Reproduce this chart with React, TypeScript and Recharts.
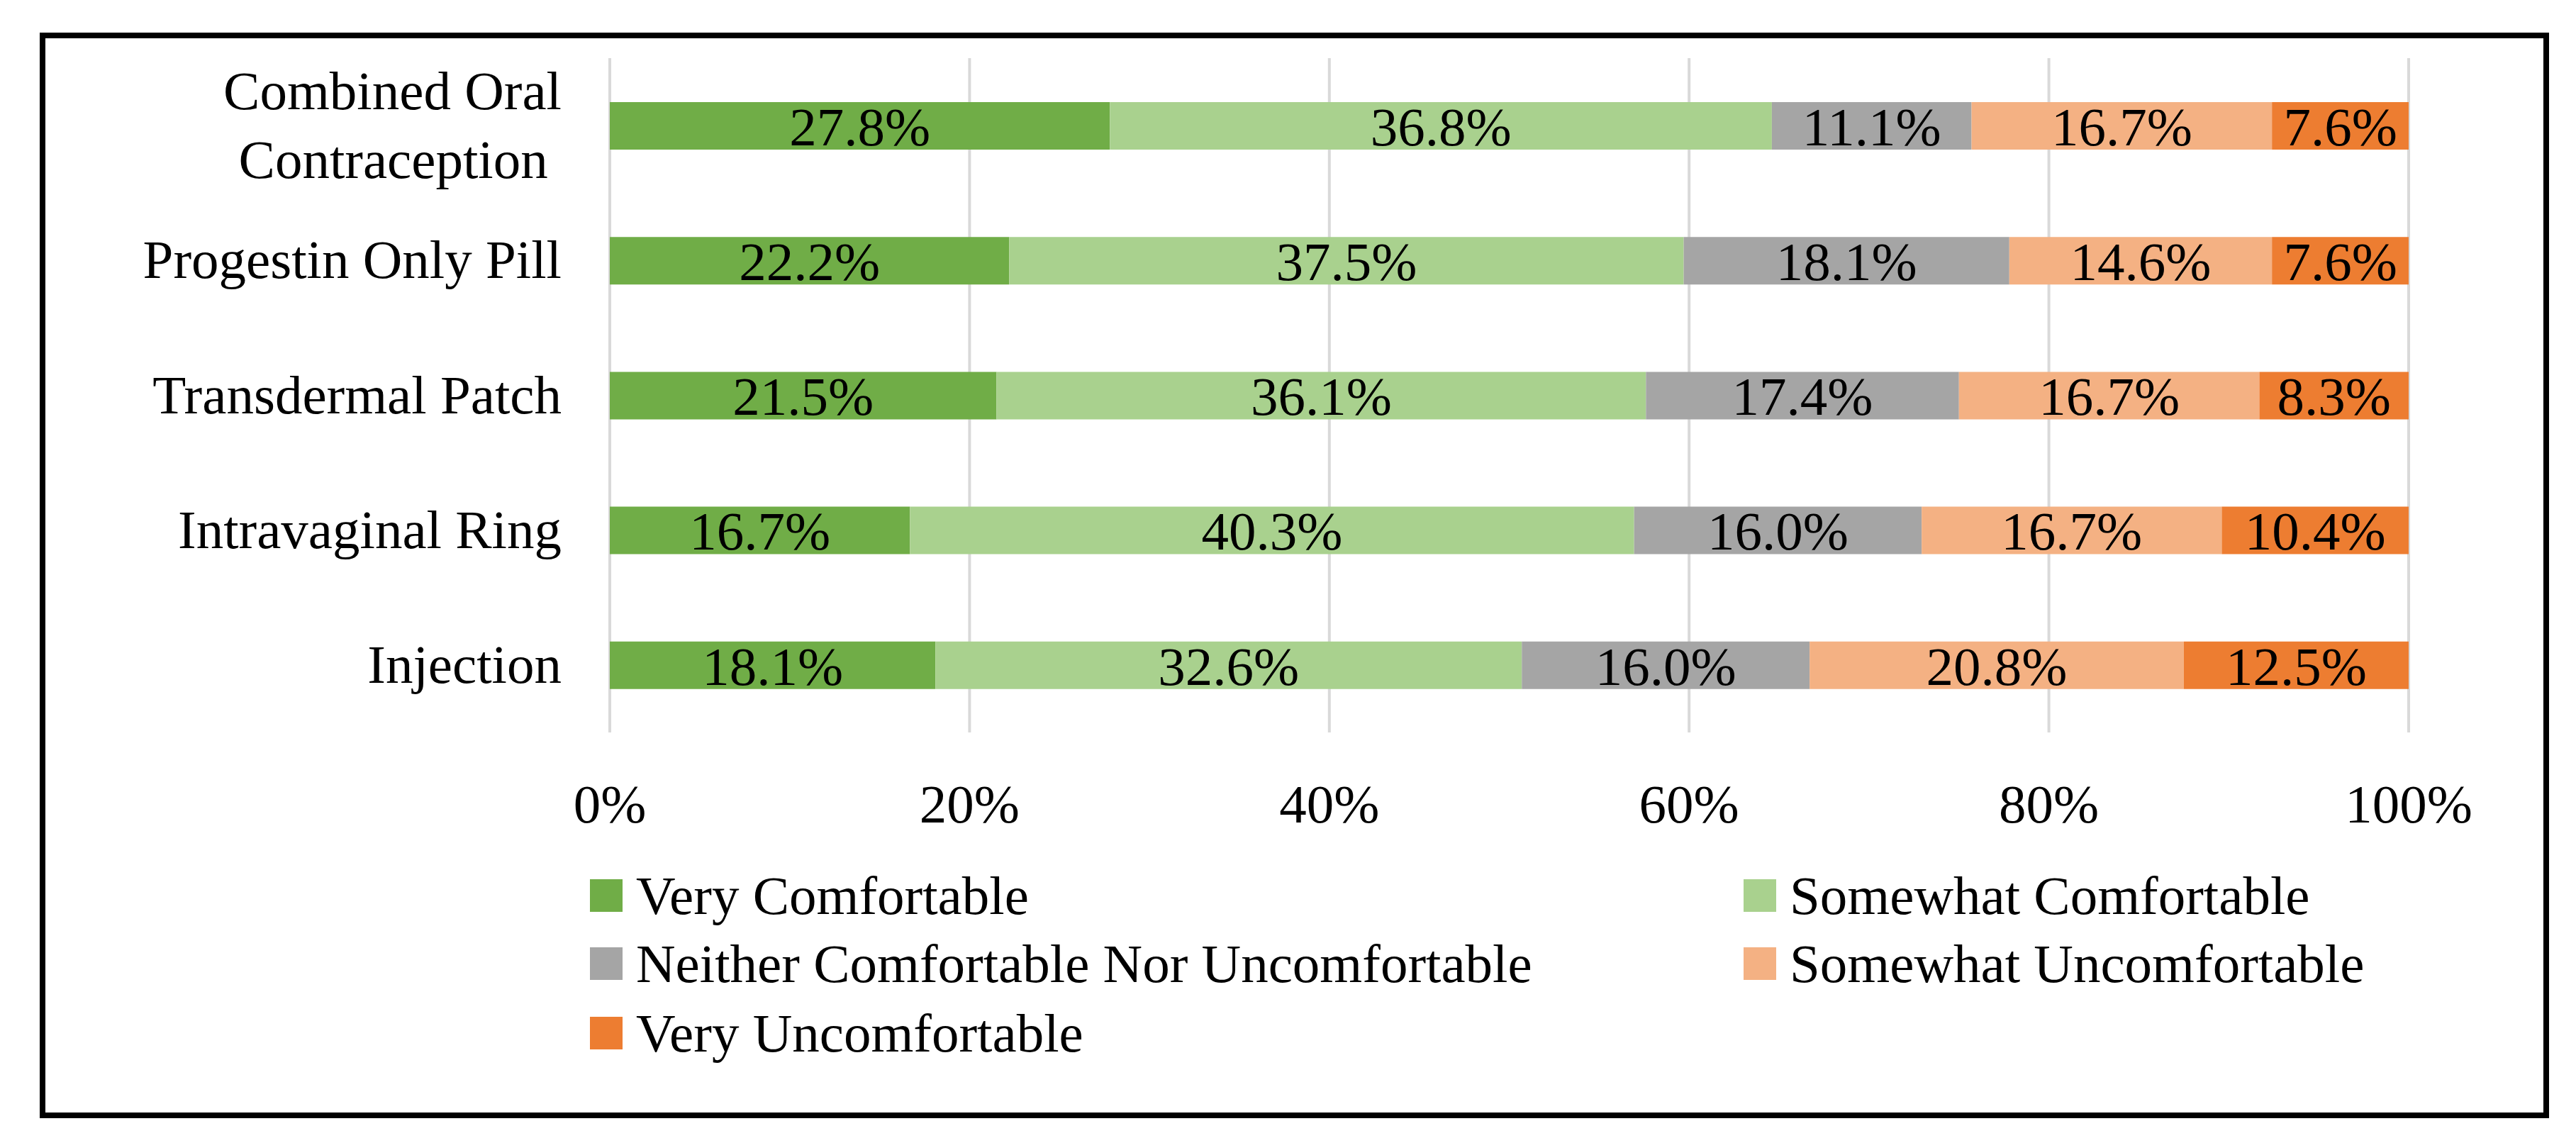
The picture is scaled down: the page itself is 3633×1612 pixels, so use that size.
import { BarChart, Bar, XAxis, YAxis, CartesianGrid, Legend, LabelList } from "recharts";

const CATEGORIES = [
  "Combined Oral Contraception ",
  "Progestin Only Pill",
  "Transdermal Patch",
  "Intravaginal Ring",
  "Injection",
];

const VERY_COMFORTABLE = [27.8, 22.2, 21.5, 16.7, 18.1];
const SOMEWHAT_COMFORTABLE = [36.8, 37.5, 36.1, 40.3, 32.6];
const NEITHER = [11.1, 18.1, 17.4, 16.0, 16.0];
const SOMEWHAT_UNCOMFORTABLE = [16.7, 14.6, 16.7, 16.7, 20.8];
const VERY_UNCOMFORTABLE = [7.6, 7.6, 8.3, 10.4, 12.5];

const X_TICKS = [0, 0.2, 0.4, 0.6, 0.8, 1];

const SERIES = [
  { key: "vc", name: "Very Comfortable", values: VERY_COMFORTABLE, color: "#70AD47" },
  { key: "sc", name: "Somewhat Comfortable", values: SOMEWHAT_COMFORTABLE, color: "#A9D18E" },
  { key: "nc", name: "Neither Comfortable Nor Uncomfortable", values: NEITHER, color: "#A5A5A5" },
  { key: "su", name: "Somewhat Uncomfortable", values: SOMEWHAT_UNCOMFORTABLE, color: "#F4B183" },
  { key: "vu", name: "Very Uncomfortable", values: VERY_UNCOMFORTABLE, color: "#ED7D31" },
];

const data = CATEGORIES.map((name, i) => {
  const row: Record<string, string | number> = { name };
  SERIES.forEach((s) => (row[s.key] = s.values[i]));
  return row;
});

const FONT = '"Liberation Serif", "Times New Roman", serif';
const FS = 77;

// wrap long category names onto two lines at the last space
function splitLabel(label: string): string[] {
  const t = label.trimEnd();
  if (t.length <= 20) return [label];
  const i = t.lastIndexOf(" ");
  return [t.slice(0, i), label.slice(i + 1)];
}

function CategoryTick({ x, y, payload }: any) {
  const lines = splitLabel(String(payload.value));
  const lh = 97;
  const first = y + 25 - ((lines.length - 1) * lh) / 2;
  return (
    <text
      x={x - 68}
      y={first}
      textAnchor="end"
      fontFamily={FONT}
      fontSize={FS}
      fill="#000"
      style={{ whiteSpace: "pre" }}
    >
      {lines.map((l, i) => (
        <tspan key={i} x={x - 68} y={first + i * lh}>
          {l}
        </tspan>
      ))}
    </text>
  );
}

// legend: two columns, filled row by row
const LEGEND_COLS = [832, 2459];
const LEGEND_ROWS = [1263, 1359, 1457];

function LegendBox() {
  return (
    <div style={{ position: "relative", width: 3633, height: 1612 }}>
      {SERIES.map((s, i) => {
        const left = LEGEND_COLS[i % 2];
        const cy = LEGEND_ROWS[Math.floor(i / 2)];
        return (
          <div
            key={s.key}
            style={{
              position: "absolute",
              left,
              top: cy - 48.5,
              height: 97,
              display: "flex",
              alignItems: "center",
              whiteSpace: "nowrap",
              fontFamily: FONT,
              fontSize: FS,
              lineHeight: "97px",
              color: "#000",
            }}
          >
            <span style={{ display: "inline-block", width: 46, height: 46, background: s.color, marginRight: 19 }} />
            <span>{s.name}</span>
          </div>
        );
      })}
    </div>
  );
}

export default function App() {
  return (
    <div style={{ position: "absolute", left: 0, top: 0, width: 3633, height: 1612, background: "#fff" }}>
      <BarChart
        width={3633}
        height={1612}
        data={data}
        layout="vertical"
        stackOffset="expand"
        margin={{ top: 82, right: 236, left: 0, bottom: 479 }}
      >
        <CartesianGrid horizontal={false} stroke="#D9D9D9" strokeWidth={4} />
        <XAxis
          type="number"
          domain={[0, 1]}
          ticks={X_TICKS}
          tickFormatter={(v: number) => `${Math.round(v * 100)}%`}
          axisLine={false}
          tickLine={false}
          tickSize={0}
          tickMargin={72}
          height={100}
          interval={0}
          tick={{ fontFamily: FONT, fontSize: FS, fill: "#000" }}
        />
        <YAxis
          type="category"
          dataKey="name"
          width={860}
          axisLine={false}
          tickLine={false}
          tickSize={0}
          tickMargin={0}
          interval={0}
          tick={<CategoryTick />}
        />
        <Legend
          layout="horizontal"
          verticalAlign="middle"
          align="center"
          wrapperStyle={{ left: 0, top: 0, width: 3633, height: 1612, pointerEvents: "none" }}
          content={() => <LegendBox />}
        />
        {SERIES.map((s) => (
          <Bar key={s.key} dataKey={s.key} name={s.name} stackId="a" fill={s.color} barSize={67} isAnimationActive={false}>
            <LabelList
              dataKey={s.key}
              position="center"
              formatter={(v: number) => `${Number(v).toFixed(1)}%`}
              style={{ fontFamily: FONT, fontSize: FS, fill: "#000" }}
            />
          </Bar>
        ))}
      </BarChart>
      <div
        style={{
          position: "absolute",
          left: 56,
          top: 46,
          width: 3539,
          height: 1531,
          border: "8px solid #000",
          boxSizing: "border-box",
          pointerEvents: "none",
        }}
      />
    </div>
  );
}
